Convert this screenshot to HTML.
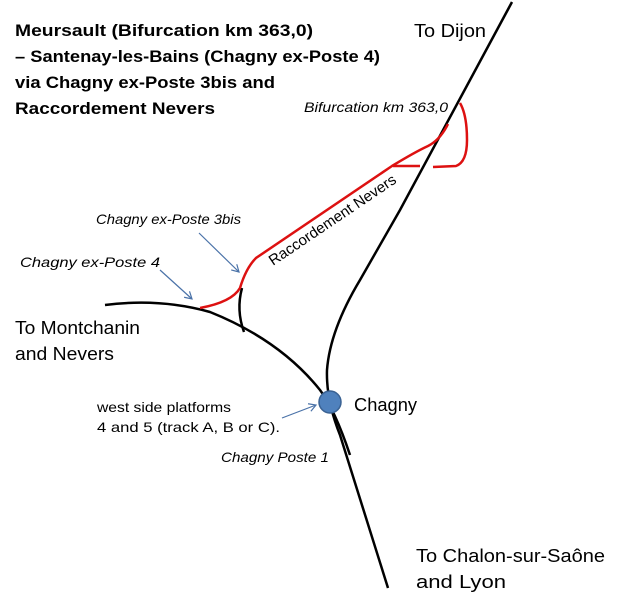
<!DOCTYPE html>
<html><head><meta charset="utf-8"><style>body{margin:0;background:#fff}svg{display:block}</style></head>
<body>
<svg width="620" height="600" viewBox="0 0 620 600" xmlns="http://www.w3.org/2000/svg" font-family="Liberation Sans, sans-serif">
<defs><marker id="a" markerWidth="10" markerHeight="10" refX="8" refY="5" orient="auto" markerUnits="userSpaceOnUse"><path d="M1,1 L8,5 L1,9" fill="none" stroke="#4a72a8" stroke-width="1.2"/></marker></defs>
<g font-weight="bold" font-size="17" fill="#000" lengthAdjust="spacingAndGlyphs">
<text x="15" y="36" textLength="298" lengthAdjust="spacingAndGlyphs">Meursault (Bifurcation km 363,0)</text>
<text x="15" y="62" textLength="365" lengthAdjust="spacingAndGlyphs">– Santenay-les-Bains (Chagny ex-Poste 4)</text>
<text x="15" y="88" textLength="260" lengthAdjust="spacingAndGlyphs">via Chagny ex-Poste 3bis and</text>
<text x="15" y="114" textLength="200" lengthAdjust="spacingAndGlyphs">Raccordement Nevers</text>
</g>
<g font-size="18">
<text x="414" y="37" textLength="72" lengthAdjust="spacingAndGlyphs">To Dijon</text>
<text x="15" y="334" textLength="125" lengthAdjust="spacingAndGlyphs">To Montchanin</text>
<text x="15" y="360" textLength="99" lengthAdjust="spacingAndGlyphs">and Nevers</text>
<text x="354" y="411" textLength="63" lengthAdjust="spacingAndGlyphs">Chagny</text>
<text x="416" y="562" textLength="189" lengthAdjust="spacingAndGlyphs">To Chalon-sur-Saône</text>
<text x="416" y="588" textLength="90" lengthAdjust="spacingAndGlyphs">and  Lyon</text>
</g>
<g font-size="14" font-style="italic">
<text x="304" y="112" textLength="144" lengthAdjust="spacingAndGlyphs">Bifurcation km 363,0</text>
<text x="96" y="224" textLength="145" lengthAdjust="spacingAndGlyphs">Chagny ex-Poste 3bis</text>
<text x="20" y="267" textLength="140" lengthAdjust="spacingAndGlyphs">Chagny ex-Poste 4</text>
<text x="221" y="462" textLength="108" lengthAdjust="spacingAndGlyphs">Chagny  Poste 1</text>
</g>
<g font-size="14">
<text x="97" y="412" textLength="134" lengthAdjust="spacingAndGlyphs">west side platforms</text>
<text x="97" y="432" textLength="183" lengthAdjust="spacingAndGlyphs">4 and 5 (track A, B or C).</text>
<text transform="translate(273,266) rotate(-34)" font-size="15" textLength="150" lengthAdjust="spacingAndGlyphs">Raccordement Nevers</text>
</g>
<g fill="none" stroke="#000" stroke-width="2.5">
<path d="M512,2 L470,80 L400,210 L360,280 Q330,330 327,370 Q326,400 340,435 L388,588"/>
<path d="M105,305 Q160,298 210,312 Q280,340 320,390 Q335,410 350,455"/>
<path d="M242,288 Q236,310 244,332"/>
</g>
<g fill="none" stroke="#d11" stroke-width="2.5">
<path d="M200,308 Q232,302 240,288 Q246,268 256,258 L392,166 Q415,152 428,146 Q440,140 448,124"/>
<path d="M393,166 L420,166 M433,167 L456,166 Q467,162 467,140 Q467,115 460,103"/>
</g>
<g stroke="#4a72a8" stroke-width="1.2" fill="none">
<line x1="160" y1="270" x2="192" y2="299" marker-end="url(#a)"/>
<line x1="199" y1="233" x2="239" y2="272" marker-end="url(#a)"/>
<line x1="282" y1="418" x2="316" y2="405" marker-end="url(#a)"/>
</g>
<circle cx="330" cy="402" r="11" fill="#4f81bd" stroke="#3a6293" stroke-width="1.5"/>
</svg>
</body></html>
